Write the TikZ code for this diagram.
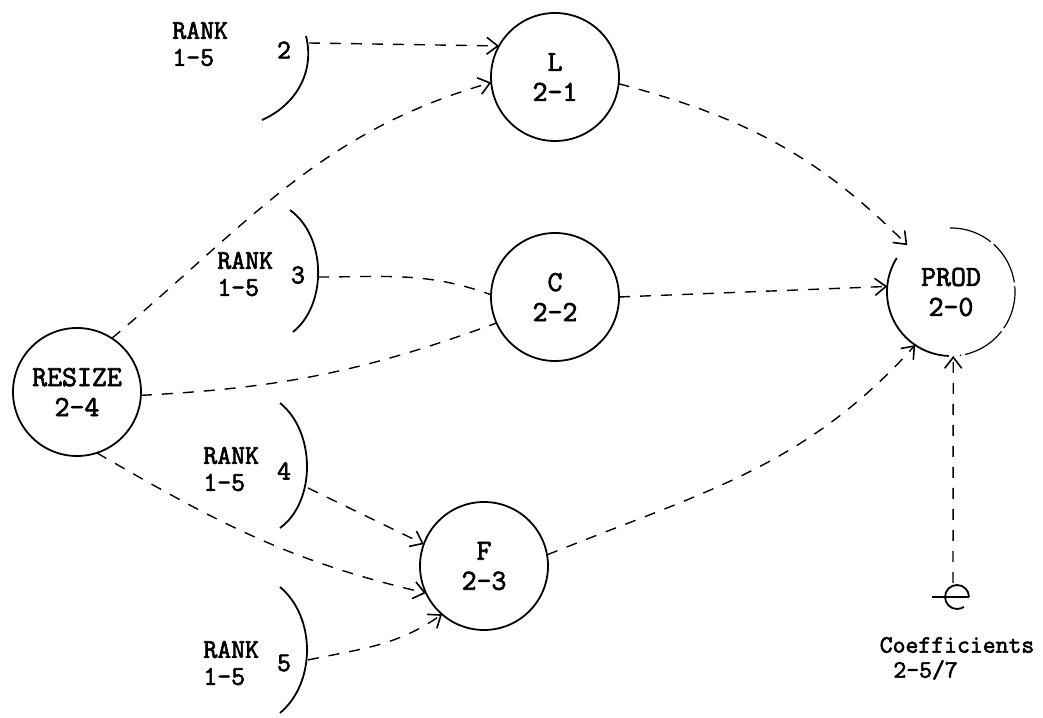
\documentclass[tikz,border=0pt]{standalone}
\usepackage{fontspec}
\newfontfamily\tw[BoldFont=Latin Modern Mono,BoldFeatures={FakeBold=2.4}]{Latin Modern Mono}
\usetikzlibrary{arrows.meta}
\begin{document}
\begin{tikzpicture}[x=0.5pt,y=0.5pt,
  proc/.style={circle,draw,line width=0.9pt,minimum size=64pt,inner sep=0pt,outer sep=0pt,
    align=center,font=\tw\bfseries\fontsize{14.5}{15}\selectfont},
  rk/.style={font=\tw\bfseries\fontsize{13.5}{13.5}\selectfont,align=left,anchor=west,inner sep=0pt},
  num/.style={font=\tw\bfseries\fontsize{13.5}{13.5}\selectfont,inner sep=0pt},
  txt/.style={font=\tw\bfseries\fontsize{12.5}{13}\selectfont,inner sep=0pt},
  brk/.style={line width=0.9pt},
  link/.style={line width=0.7pt,dash pattern=on 5.5pt off 5pt},
  flow/.style={link,-{Straight Barb[length=5.5pt,width=8.5pt,line width=0.8pt]}}
]
\useasboundingbox (0,0) rectangle (1043,717);

% process circles
\node[proc] (L) at (555,640) {L\\2-1};
\node[proc] (C) at (555,420) {C\\2-2};
\node[proc] (F) at (484,151) {F\\2-3};
\node[proc] (RESIZE) at (77,325) {RESIZE\\2-4};
\node[proc,draw=none] (PROD) at (951,425) {PROD\\2-0};
\draw[line width=0.9pt] (PROD.148) arc[start angle=148,end angle=268,radius=32pt];
\draw[line width=0.6pt,dash pattern=on 22pt off 2pt] (PROD.91) arc[start angle=91,end angle=-82,radius=32pt];

% rank labels
\node[rk] (r2t) at (172,673) {RANK\\1-5};
\node[num] (r2n) at (284,667) {2};
\node[rk] (r3t) at (217,443) {RANK\\1-5};
\node[num] (r3n) at (298,442) {3};
\node[rk] (r4t) at (203,248) {RANK\\1-5};
\node[num] (r4n) at (284,246) {4};
\node[rk] (r5t) at (203,54) {RANK\\1-5};
\node[num] (r5n) at (284,54) {5};

% brackets
\draw[brk] (306,681) .. controls (315,645) and (296,612) .. (262,597);
\draw[brk] (290,507) .. controls (327,480) and (327,412) .. (293,385);
\draw[brk] (280,314) .. controls (316,285) and (316,215) .. (280,189);
\draw[brk] (280,130) .. controls (316,100) and (316,34) .. (280,4);
\coordinate (b2) at (309,674);
\coordinate (b3) at (318,440);
\coordinate (b4) at (308,229);
\coordinate (b5) at (308,57);

% coefficients
\draw[line width=0.9pt] (932,120) -- (969,120);
\draw[line width=0.9pt] (969,120) arc[start angle=0,end angle=305,radius=6pt];
\coordinate (coef) at (953,134);
\node[txt] (coeft) at (957,72) {Coefficients};
\node[txt,anchor=west] (coefn) at (893,47) {2-5/7};

% connectors
\draw[flow] (b2) -- (L.151);
\draw[flow] (RESIZE.57) to[out=40,in=196] (L.185);
\draw[link] (b3) to[out=0,in=160] (C.178);
\draw[link] (RESIZE.-3) to[out=3,in=200] (C.204);
\draw[flow] (b4) -- (F.160);
\draw[flow] (RESIZE.-72) to[out=-30,in=167] (F.205);
\draw[flow] (b5) to[out=12,in=215] (F.229);
\draw[flow] (L.-6) to[out=-15,in=135] (PROD.133);
\draw[flow] (C.0) -- (PROD.175);
\draw[flow] (F.10) to[out=22,in=228] (PROD.236);
\draw[flow] (coef) -- (PROD.272);
\end{tikzpicture}
\end{document}
